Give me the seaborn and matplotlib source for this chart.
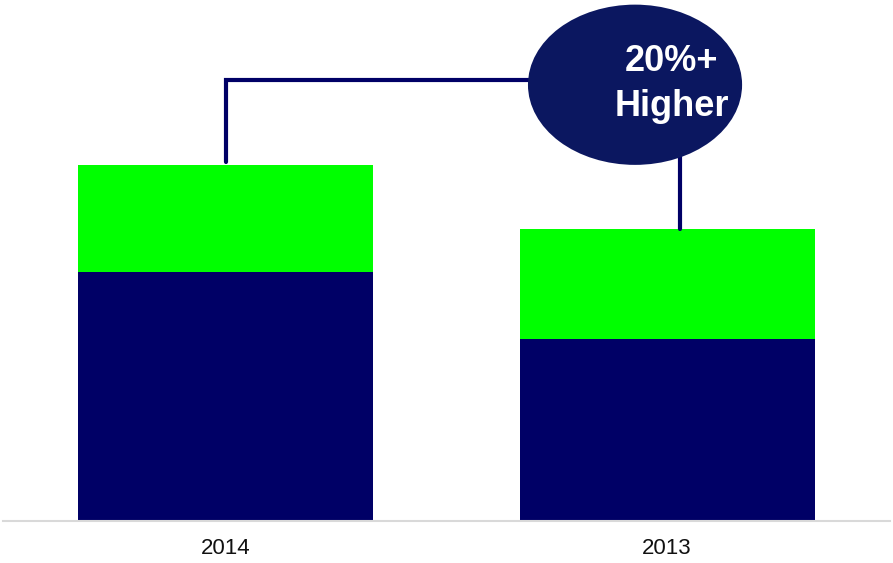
import matplotlib
matplotlib.use("Agg")
import matplotlib.pyplot as plt
from matplotlib.patches import Ellipse
import seaborn as sns
import pandas as pd

# Stacked values per year (arbitrary index units)
years = ["2014", "2013"]
base_values = [70, 51]      # dark navy segment
top_values = [30, 31]       # green segment
callout_lines = ["20%+", "Higher"]

NAVY = "#000066"
GREEN = "#00FF00"
BUBBLE = "#0B1760"

totals = [b + t for b, t in zip(base_values, top_values)]
df = pd.DataFrame({"year": years, "base": base_values, "total": totals})

sns.set_theme(style="white")
plt.rcParams["font.family"] = ["Liberation Sans", "DejaVu Sans"]

fig = plt.figure(figsize=(8.93, 5.63), dpi=100)
ax = fig.add_axes([3 / 893, 1 - 521 / 563, 887 / 893, 521 / 563])

sns.barplot(data=df, x="year", y="total", color=GREEN, width=0.668,
            saturation=1, ax=ax, order=years)
sns.barplot(data=df, x="year", y="base", color=NAVY, width=0.668,
            saturation=1, ax=ax, order=years)
for p in ax.patches:
    p.set_linewidth(0)

ax.set_xlim(-0.504, 1.505)
ax.set_ylim(0, 146.3)
ax.set_xlabel("")
ax.set_ylabel("")
ax.set_yticks([])
ax.tick_params(axis="x", length=0, pad=12, labelsize=16, colors="#111111")

for side in ["left", "right", "top"]:
    ax.spines[side].set_visible(False)
ax.spines["bottom"].set_color("#d9d9d9")
ax.spines["bottom"].set_linewidth(1.5)

# Callout bubble with connectors to both bars
cx, cy = 0.9275, 122.5
line_y = 123.9
ax.plot([0, 0, cx], [totals[0] + 0.8, line_y, line_y], color=NAVY,
        lw=3, solid_joinstyle="miter", clip_on=False, zorder=3)
ax.plot([1.03, 1.03], [cy, totals[1]], color=NAVY, lw=3,
        clip_on=False, zorder=3)
ax.add_patch(Ellipse((cx, cy), 0.485, 45, facecolor=BUBBLE,
                     edgecolor="none", clip_on=False, zorder=4))
ax.text(1.011, 128.9, callout_lines[0], ha="center", va="center",
        color="white", fontsize=26, fontweight="bold", zorder=5)
ax.text(1.011, 116.3, callout_lines[1], ha="center", va="center",
        color="white", fontsize=26, fontweight="bold", zorder=5)

fig.savefig("out.png", dpi=100)
